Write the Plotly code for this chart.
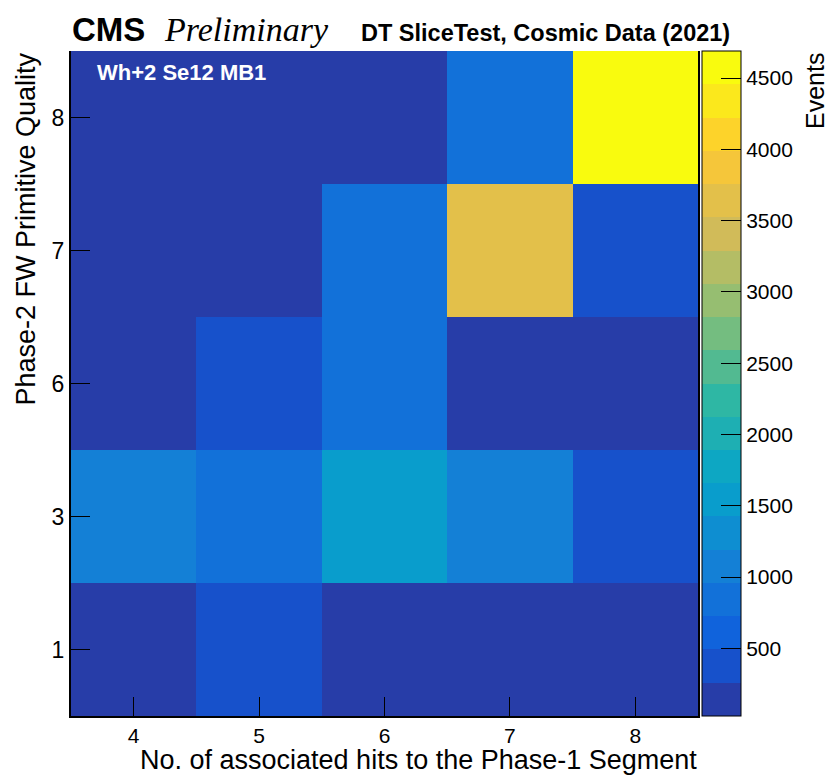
import numpy as np
import plotly.graph_objects as go

# ---- data ----
x_labels = ["4", "5", "6", "7", "8"]          # No. of associated hits
y_labels = ["1", "3", "6", "7", "8"]          # Phase-2 FW primitive quality
events_q1 = [60, 380, 45, 30, 25]
events_q3 = [1080, 850, 1540, 1060, 370]
events_q6 = [110, 390, 830, 140, 95]
events_q7 = [70, 150, 860, 3640, 360]
events_q8 = [40, 80, 120, 840, 4690]
cbar_ticks = [500, 1000, 1500, 2000, 2500, 3000, 3500, 4000, 4500]

z = [events_q1, events_q3, events_q6, events_q7, events_q8]
zmin = min(min(r) for r in z)
zmax = max(max(r) for r in z)

# ---- ROOT kBird palette, 20 contour levels ----
stops = np.linspace(0, 1, 9)
R = [0.2082, 0.0592, 0.0780, 0.0232, 0.1802, 0.5301, 0.8186, 0.9956, 0.9764]
G = [0.1664, 0.3599, 0.5041, 0.6419, 0.7178, 0.7492, 0.7328, 0.7862, 0.9832]
B = [0.5293, 0.8684, 0.8385, 0.7914, 0.6425, 0.4662, 0.3499, 0.1968, 0.0539]
ncol, ndiv = 255, 20
colorscale = []
for i in range(ndiv):
    idx = int((i + 0.99) * ncol / ndiv)
    t = idx / (ncol - 1)
    col = "rgb(%d,%d,%d)" % (round(255 * np.interp(t, stops, R)),
                             round(255 * np.interp(t, stops, G)),
                             round(255 * np.interp(t, stops, B)))
    colorscale.append([i / ndiv, col])
    colorscale.append([(i + 1) / ndiv, col])

SANS = "Liberation Sans, Arial, Helvetica, sans-serif"
SERIF = "Liberation Serif, Times New Roman, serif"

W, H = 829, 776
L, Rr, T, Bt = 71, 698, 51, 716
pw, ph = Rr - L, Bt - T


def px(xp):  # page x -> paper
    return (xp - L) / pw


def py(yp):  # page y -> paper
    return 1 - (yp - T) / ph


fig = go.Figure(go.Heatmap(
    x=x_labels, y=y_labels, z=z,
    zmin=zmin, zmax=zmax,
    colorscale=colorscale,
    xgap=0, ygap=0,
    colorbar=dict(
        thickness=39, len=1, lenmode="fraction",
        x=px(702), xanchor="left", xpad=0,
        y=0.5, yanchor="middle", ypad=0,
        outlinewidth=1, outlinecolor="black",
        ticks="inside", ticklen=20, tickwidth=1, tickcolor="black",
        tickvals=cbar_ticks,
        tickfont=dict(size=21, family=SANS, color="black"),
    ),
))

axis_common = dict(
    type="category", ticks="inside", ticklen=19, tickwidth=1, tickcolor="black",
    showline=True, linecolor="black", linewidth=2, showgrid=False, zeroline=False,
)
fig.update_xaxes(**axis_common, range=[-0.5, 4.5],
                 tickfont=dict(size=21, family=SANS, color="black"))
fig.update_yaxes(**axis_common, range=[-0.5, 4.5], mirror=True,
                 tickfont=dict(size=23, family=SANS, color="black"))

ann = []
ann.append(dict(text="<b>CMS</b>", x=px(70), y=py(30), xanchor="left", yanchor="middle",
                font=dict(size=33, family=SANS, color="black")))
ann.append(dict(text="<i>Preliminary</i>", x=px(162), y=py(30), xanchor="left", yanchor="middle",
                font=dict(size=34, family=SERIF, color="black")))
ann.append(dict(text="<b>DT SliceTest, Cosmic Data (2021)</b>", x=px(732), y=py(33),
                xanchor="right", yanchor="middle",
                font=dict(size=23.5, family=SANS, color="black")))
ann.append(dict(text="<b>Wh+2 Se12 MB1</b>", x=px(95), y=py(73), xanchor="left", yanchor="middle",
                font=dict(size=22, family=SANS, color="white")))
ann.append(dict(text="No. of associated hits to the Phase-1 Segment", x=px(699), y=py(760),
                xanchor="right", yanchor="middle",
                font=dict(size=27, family=SANS, color="black")))
ann.append(dict(text="Phase-2 FW Primitive Quality", x=px(25), y=py(51), textangle=-90,
                xanchor="center", yanchor="top",
                font=dict(size=27, family=SANS, color="black")))
ann.append(dict(text="Events", x=px(815), y=py(51), textangle=-90,
                xanchor="center", yanchor="top",
                font=dict(size=25, family=SANS, color="black")))
for a in ann:
    a.update(xref="paper", yref="paper", showarrow=False)

fig.update_layout(
    width=W, height=H,
    margin=dict(l=L, r=W - Rr, t=T, b=H - Bt, pad=0),
    paper_bgcolor="white", plot_bgcolor="white",
    annotations=ann,
    showlegend=False,
)

fig.write_html(
    "out.html",
    config={"displayModeBar": False},
    post_script="document.body.style.margin='0';"
                "document.body.style.overflow='hidden';"
                "document.documentElement.style.overflow='hidden';",
)
